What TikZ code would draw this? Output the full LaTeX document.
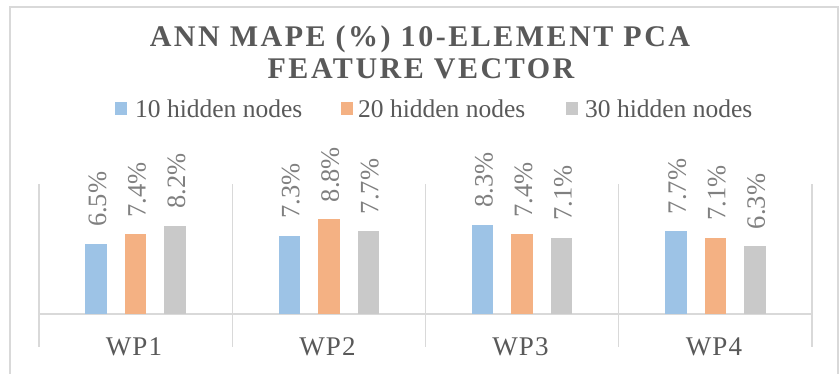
\documentclass[tikz,border=0pt]{standalone}
\usepackage{fontspec}
\setmainfont{Liberation Serif}
\newfontfamily\titlefont[LetterSpace=8.4]{Liberation Serif}
\newfontfamily\catfont[LetterSpace=4]{Liberation Serif}
\definecolor{bar0}{HTML}{9DC3E6}
\definecolor{bar1}{HTML}{F4B183}
\definecolor{bar2}{HTML}{C9C9C9}
\definecolor{axisgray}{HTML}{D9D9D9}
\definecolor{txtdark}{HTML}{595959}
\definecolor{txtlight}{HTML}{808080}
\tikzset{
  ttl/.style={anchor=base, inner sep=0, text=txtdark, font=\titlefont\bfseries\fontsize{30}{34}\selectfont},
  leg/.style={anchor=base west, inner sep=0, text=txtdark, font=\fontsize{25.5}{30}\selectfont},
  lbl/.style={rotate=90, anchor=west, inner sep=0, text=txtlight, font=\fontsize{26.5}{30}\selectfont},
  cat/.style={anchor=base, inner sep=0, text=txtdark, font=\catfont\fontsize{27}{30}\selectfont},
  axisline/.style={draw=axisgray, line width=1.3pt},
}
\begin{document}
\begin{tikzpicture}[x=1pt,y=-1pt]
\useasboundingbox (0,0) rectangle (840,373);
\fill[white] (0,0) rectangle (840,373);
\draw[axisgray, line width=1.5pt] (10,7) rectangle (838,390);
% title
\node[ttl] (t1) at (420,46) {ANN MAPE (\%) 10-ELEMENT PCA};
\node[ttl] (t2) at (421,78) {FEATURE VECTOR};
% legend
\fill[bar0] (115,102) rectangle (127,115);
\node[leg] (g1) at (135,117) {10 hidden nodes};
\fill[bar1] (341,102) rectangle (353,115);
\node[leg] (g2) at (358,117) {20 hidden nodes};
\fill[bar2] (566,102) rectangle (578,115);
\node[leg] (g3) at (585,117) {30 hidden nodes};
% axis
\draw[axisline] (39,314) -- (812,314);
\foreach \k in {0,1,2,3,4}{
  \pgfmathsetmacro\tx{39+193.25*\k}
  \draw[axisline] (\tx,184) -- (\tx,347);
}
% bars
\foreach \i/\vals in {0/{6.5,7.4,8.2},1/{7.3,8.8,7.7},2/{8.3,7.4,7.1},3/{7.7,7.1,6.3}}{
  \foreach \v [count=\j from 0] in \vals {
    \pgfmathsetmacro\cx{39+193.25*\i+57+39.5*\j}
    \pgfmathsetmacro\ytop{314-10.75*\v}
    \fill[bar\j] (\cx-10.75,314) rectangle (\cx+10.75,\ytop);
    \node[lbl] (l\i\j) at (\cx+1.5,\ytop-17) {\v\%};
  }
}
% categories
\node[cat] (c1) at (134,355) {WP1};
\node[cat] (c2) at (327.5,355) {WP2};
\node[cat] (c3) at (520.5,355) {WP3};
\node[cat] (c4) at (714,355) {WP4};
\end{tikzpicture}
\end{document}
